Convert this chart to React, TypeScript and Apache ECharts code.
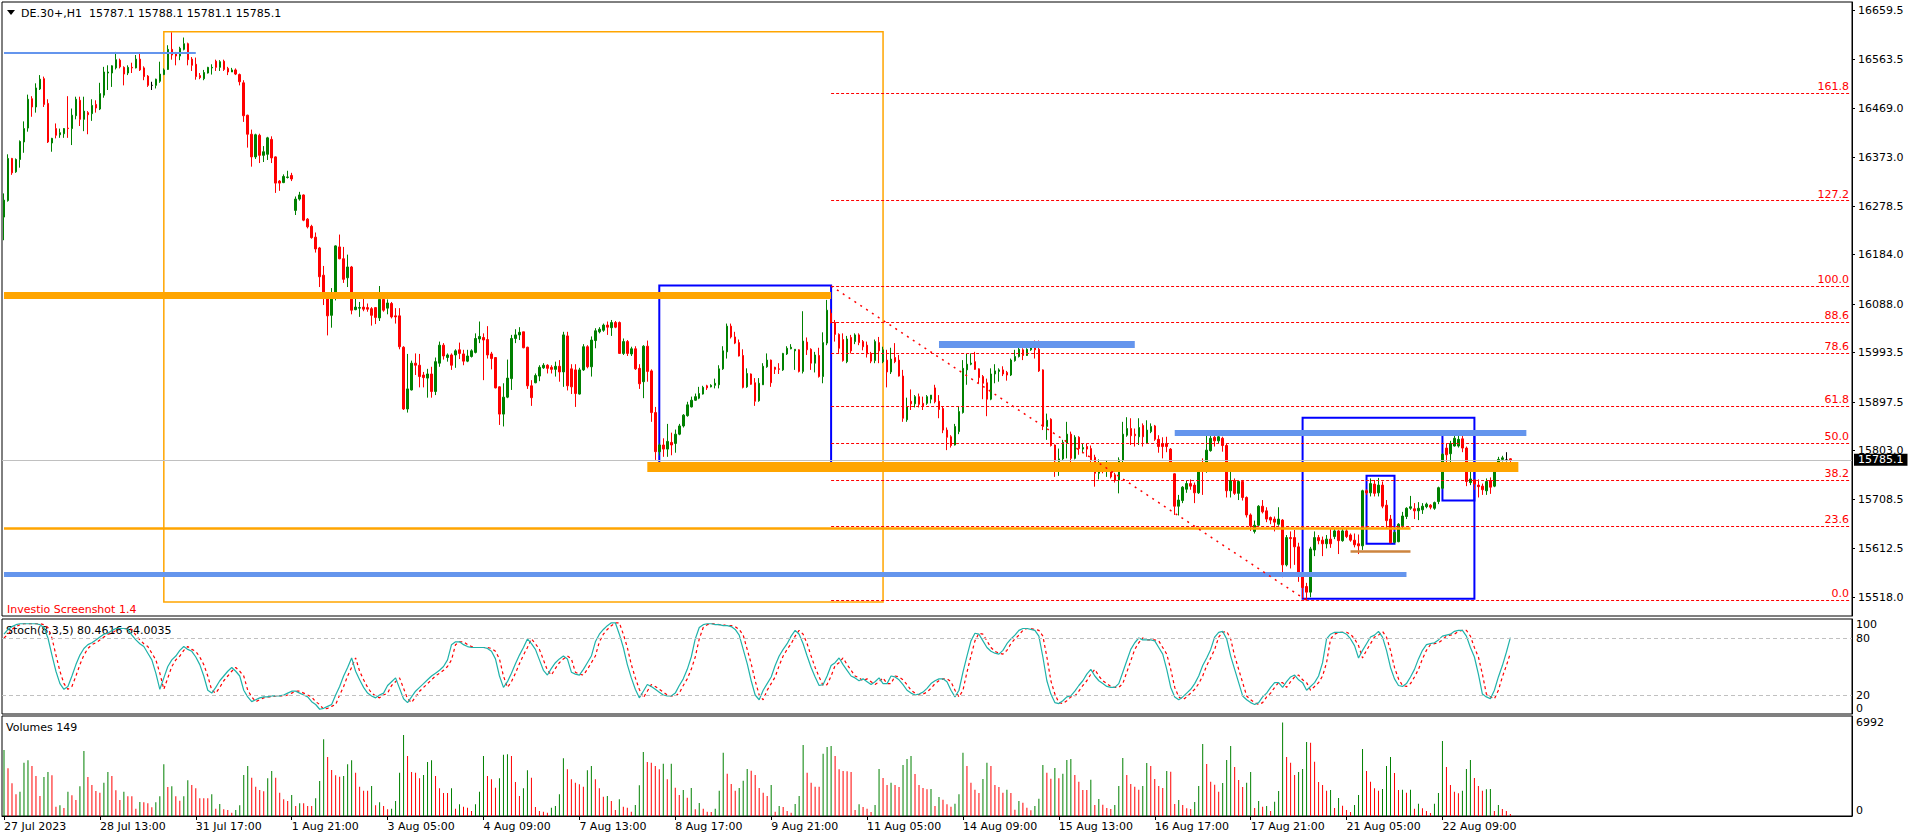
import React, { useEffect, useRef } from "react";
import * as echarts from "echarts";

const FONT = "DejaVu Sans";

// ---------- DATA ----------
const symbolTitle = "DE.30+,H1\u00a0\u00a015787.1 15788.1 15781.1 15785.1";
const timeLabels = [
  "27 Jul 2023", "28 Jul 13:00", "31 Jul 17:00", "1 Aug 21:00", "3 Aug 05:00", "4 Aug 09:00",
  "7 Aug 13:00", "8 Aug 17:00", "9 Aug 21:00", "11 Aug 05:00", "14 Aug 09:00", "15 Aug 13:00",
  "16 Aug 17:00", "17 Aug 21:00", "21 Aug 05:00", "22 Aug 09:00",
];
const barsPerTimeLabel = 24;
const totalSlots = 463; // visible bar slots incl. right shift

const priceTicks = [15518.0, 15612.5, 15708.5, 15803.0, 15897.5, 15993.5, 16088.0, 16184.0, 16278.5, 16373.0, 16469.0, 16563.5, 16659.5];
const stochTicks = [0, 20, 80, 100];
const volumeTicks = [0, 6992];

// [open, high, low, close]
const candles = [
  [16257,16303,16212,16290],[16289,16379,16287,16371],[16371,16372,16339,16343],[16345,16371,16343,16369],[16369,16406,16353,16404],
  [16403,16443,16382,16429],[16430,16495,16423,16486],[16487,16492,16452,16471],[16471,16517,16460,16508],[16506,16533,16504,16525],
  [16526,16530,16471,16476],[16478,16486,16401,16403],[16401,16411,16384,16410],[16429,16439,16410,16416],[16417,16429,16411,16421],
  [16419,16430,16411,16429],[16430,16492,16411,16429],[16429,16468,16397,16455],[16454,16491,16447,16486],[16484,16491,16434,16447],
  [16447,16491,16424,16463],[16460,16463,16418,16456],[16458,16486,16444,16474],[16476,16484,16460,16469],[16467,16518,16465,16497],
  [16494,16549,16489,16539],[16537,16552,16504,16539],[16537,16552,16510,16551],[16547,16578,16544,16563],[16562,16565,16546,16549],
  [16548,16550,16513,16535],[16537,16552,16533,16548],[16548,16557,16537,16547],[16547,16572,16546,16564],[16564,16575,16541,16543],
  [16547,16550,16523,16530],[16531,16533,16510,16513],[16513,16520,16504,16513],[16513,16526,16507,16525],[16521,16559,16518,16535],
  [16534,16546,16533,16543],[16544,16591,16543,16583],[16583,16616,16563,16572],[16574,16578,16552,16570],[16570,16588,16562,16585],
  [16583,16606,16581,16594],[16594,16596,16552,16563],[16564,16568,16541,16552],[16554,16567,16524,16530],[16532,16537,16525,16528],
  [16526,16543,16523,16538],[16537,16549,16536,16548],[16547,16554,16534,16548],[16560,16563,16541,16548],[16548,16562,16541,16559],
  [16560,16563,16541,16544],[16546,16549,16533,16539],[16539,16547,16539,16543],[16543,16546,16533,16535],[16534,16536,16513,16520],
  [16518,16523,16442,16454],[16455,16456,16392,16418],[16418,16427,16355,16374],[16374,16419,16370,16417],[16416,16419,16362,16377],
  [16377,16395,16364,16384],[16379,16413,16368,16411],[16408,16414,16362,16372],[16374,16375,16304,16323],[16327,16329,16308,16323],
  [16324,16340,16323,16336],[16334,16347,16332,16335],[16338,16343,16327,16331],[16270,16297,16261,16292],[16292,16306,16289,16300],
  [16300,16301,16249,16251],[16253,16255,16235,16238],[16239,16242,16215,16217],[16218,16227,16188,16195],[16197,16199,16121,16141],
  [16144,16162,16086,16102],[16105,16110,16027,16065],[16066,16119,16042,16099],[16099,16202,16095,16201],[16199,16223,16175,16176],
  [16176,16199,16129,16136],[16139,16184,16121,16160],[16160,16162,16068,16076],[16077,16110,16076,16082],[16080,16092,16063,16081],
  [16082,16102,16074,16078],[16081,16089,16073,16078],[16079,16082,16046,16066],[16081,16082,16049,16062],[16061,16123,16055,16097],
  [16097,16099,16073,16076],[16080,16097,16068,16090],[16089,16092,16060,16063],[16065,16080,16050,16063],[16065,16080,16000,16005],
  [16004,16006,15882,15884],[15884,15991,15877,15923],[15921,15978,15920,15973],[15973,15992,15950,15969],[15969,15991,15926,15947],
  [15950,15956,15926,15945],[15944,15962,15906,15952],[15952,15966,15906,15918],[15918,15984,15911,15976],[15973,16015,15966,16008],
  [16008,16012,15980,15987],[15984,15992,15976,15989],[15989,15992,15960,15969],[15989,16000,15964,15997],[15999,16013,15981,15992],
  [15991,15999,15969,15977],[15977,15999,15975,15987],[15986,16000,15984,15997],[15994,16031,15992,16021],[16020,16054,16012,16025],
  [16023,16031,15940,16018],[16019,16045,15982,15989],[15991,15995,15961,15982],[15984,15984,15924,15925],[15927,15928,15853,15874],
  [15874,15934,15850,15907],[15907,15980,15905,15944],[15943,16028,15921,16021],[16021,16039,16012,16028],[16028,16043,16018,16033],
  [16034,16034,16002,16003],[16004,16005,15923,15929],[15929,15940,15890,15906],[15935,15953,15934,15949],[15948,15969,15938,15965],
  [15964,15973,15962,15969],[15969,15971,15953,15963],[15965,15969,15953,15961],[15961,15976,15947,15967],[15967,15979,15937,15956],
  [15956,16034,15927,16028],[16026,16034,15920,15929],[15962,15971,15913,15927],[15960,15971,15888,15914],[15913,15964,15912,15960],
  [15960,16010,15958,16005],[16005,16008,15963,15966],[15966,16025,15947,16018],[16017,16041,16002,16036],[16034,16043,16031,16039],
  [16037,16050,16034,16047],[16047,16054,16028,16043],[16042,16057,16026,16052],[16052,16055,16041,16043],[16052,16054,15991,15992],
  [15992,16021,15989,16015],[16015,16018,15987,15992],[15991,16005,15987,16001],[16001,16006,15960,15962],[15963,15971,15923,15933],
  [15937,16008,15905,16006],[16006,16017,15937,15957],[15958,15961,15859,15877],[15877,15888,15785,15801],[15801,15817,15794,15814],
  [15814,15827,15791,15806],[15806,15855,15791,15821],[15819,15838,15794,15814],[15817,15844,15799,15835],[15835,15855,15833,15851],
  [15851,15874,15848,15872],[15871,15898,15869,15892],[15888,15908,15887,15901],[15901,15914,15900,15908],[15905,15927,15903,15914],
  [15913,15929,15912,15926],[15929,15931,15921,15925],[15927,15932,15926,15930],[15930,15943,15924,15934],[15931,15969,15924,15962],
  [15962,16006,15960,15997],[15995,16050,15982,16045],[16045,16050,16021,16024],[16024,16034,16010,16012],[16013,16019,15986,15987],
  [15988,16000,15924,15926],[15927,15963,15925,15953],[15952,15953,15931,15932],[15935,15944,15890,15899],[15900,15944,15898,15934],
  [15931,15973,15931,15967],[15966,15992,15964,15979],[15979,15980,15927,15935],[15965,15966,15952,15961],[15962,15973,15952,15961],
  [15960,15993,15958,15992],[15991,16006,15989,16002],[16001,16010,16000,16004],[15997,16000,15960,16000],[15999,16000,15955,15957],
  [15957,16074,15953,16016],[16014,16023,15989,15999],[16000,16002,15960,15973],[15973,15995,15955,15989],[15988,16003,15945,15947],
  [15947,16033,15934,16013],[16012,16096,16008,16076],[16070,16078,16050,16052],[16052,16057,16015,16029],[16029,16031,15993,16002],
  [16019,16031,15976,15978],[15976,16026,15973,16020],[16023,16028,15992,15997],[16015,16031,16010,16028],[16028,16031,16008,16013],
  [16015,16018,15998,16005],[16008,16015,15984,15991],[15992,15995,15973,15977],[15978,16019,15973,16015],[16013,16024,15973,15997],
  [15976,16005,15973,15999],[15979,15999,15926,15956],[15956,16003,15952,15981],[15984,16012,15973,15976],[15979,15989,15947,15948],
  [15948,15960,15859,15866],[15863,15906,15859,15888],[15899,15922,15882,15894],[15894,15911,15887,15908],[15908,15914,15887,15893],
  [15895,15908,15882,15890],[15895,15911,15892,15908],[15903,15911,15895,15911],[15925,15931,15895,15898],[15899,15911,15866,15883],
  [15885,15888,15837,15843],[15843,15848,15804,15829],[15830,15833,15809,15813],[15814,15855,15813,15850],[15840,15888,15835,15879],
  [15877,15979,15875,15963],[15960,15991,15931,15971],[15971,15992,15969,15973],[15976,15995,15960,15961],[15962,15963,15934,15945],
  [15947,15950,15903,15934],[15935,15943,15870,15903],[15903,15963,15901,15952],[15952,15971,15934,15958],[15957,15963,15937,15960],
  [15960,15967,15948,15952],[15955,15958,15939,15950],[15950,15982,15948,15979],[15978,15999,15976,15986],[15986,16005,15984,16000],
  [15999,16002,15979,15988],[15988,16002,15987,16000],[15999,16013,15997,16005],[16004,16017,15982,15999],[16000,16017,15956,15958],
  [15960,15961,15843,15850],[15850,15875,15824,15862],[15864,15866,15811,15813],[15814,15815,15752,15783],[15782,15807,15754,15787],
  [15787,15824,15785,15819],[15817,15859,15788,15835],[15835,15840,15780,15788],[15788,15833,15786,15829],[15829,15831,15795,15807],
  [15806,15816,15798,15809],[15811,15816,15791,15806],[15807,15813,15769,15785],[15790,15795,15733,15759],[15759,15786,15747,15765],
  [15767,15780,15759,15763],[15764,15783,15752,15765],[15767,15769,15749,15752],[15756,15760,15741,15745],[15746,15790,15720,15785],
  [15784,15859,15772,15835],[15833,15868,15830,15846],[15846,15866,15814,15832],[15835,15846,15811,15832],[15830,15866,15814,15848],
  [15852,15856,15811,15830],[15818,15862,15816,15843],[15840,15856,15837,15850],[15851,15853,15822,15825],[15825,15833,15799,15811],
  [15816,15829,15788,15811],[15817,15830,15800,15811],[15806,15808,15765,15767],[15758,15759,15678,15695],[15695,15717,15677,15707],
  [15706,15734,15701,15732],[15728,15745,15721,15739],[15739,15747,15727,15734],[15736,15741,15701,15721],[15721,15778,15719,15774],
  [15772,15788,15717,15765],[15765,15832,15760,15804],[15803,15837,15801,15827],[15829,15841,15811,15822],[15822,15843,15817,15830],
  [15827,15830,15801,15813],[15813,15817,15712,15725],[15725,15769,15712,15745],[15745,15749,15717,15720],[15720,15746,15707,15743],
  [15743,15746,15706,15712],[15712,15714,15673,15678],[15678,15681,15647,15657],[15646,15667,15642,15658],[15658,15697,15655,15695],
  [15695,15707,15681,15684],[15686,15693,15664,15670],[15673,15675,15660,15668],[15670,15675,15646,15664],[15660,15693,15657,15670],
  [15668,15670,15557,15581],[15581,15639,15578,15634],[15634,15646,15574,15632],[15634,15649,15581,15616],[15616,15624,15548,15561],
  [15563,15565,15516,15537],[15539,15546,15513,15528],[15528,15616,15518,15612],[15610,15646,15598,15634],[15634,15639,15621,15628],
  [15629,15636,15598,15622],[15622,15639,15613,15631],[15631,15652,15614,15622],[15636,15653,15631,15647],[15647,15649,15602,15628],
  [15628,15652,15626,15647],[15647,15652,15633,15636],[15639,15642,15626,15629],[15629,15642,15615,15620],[15622,15640,15602,15618],
  [15618,15727,15610,15725],[15725,15728,15717,15721],[15721,15749,15714,15739],[15738,15746,15714,15720],[15721,15750,15714,15736],
  [15736,15743,15691,15695],[15697,15707,15652,15667],[15670,15678,15623,15624],[15625,15646,15623,15644],[15626,15662,15625,15660],
  [15657,15684,15652,15676],[15675,15693,15670,15691],[15691,15715,15688,15694],[15690,15701,15670,15686],[15686,15703,15668,15691],
  [15688,15701,15680,15695],[15694,15702,15691,15699],[15697,15699,15689,15693],[15691,15704,15688,15702],[15704,15733,15699,15731],
  [15730,15798,15728,15796],[15808,15817,15772,15795],[15797,15822,15778,15817],[15812,15832,15811,15827],[15812,15833,15809,15825],
  [15826,15837,15800,15808],[15808,15811,15734,15743],[15741,15769,15736,15748],[15746,15747,15727,15738],[15736,15747,15712,15733],
  [15734,15739,15717,15727],[15725,15749,15717,15743],[15745,15751,15719,15732],[15734,15772,15732,15769],[15767,15791,15764,15786],
  [15786,15793,15782,15789],[15785,15800,15782,15785],[15787.1,15788.1,15781.1,15785.1],
];

const volumes = [
  4930,3561,2440,1619,1818,3984,4158,3735,2988,1494,
  2913,3287,3038,697,797,598,1818,1544,1195,2216,
  4856,2913,2316,1868,1743,2490,3287,2988,1917,1195,
  1818,1469,1469,548,1046,1021,946,647,1021,1469,
  3860,2166,2216,1469,1145,1469,2664,2316,2067,1320,
  1320,1320,1619,548,896,498,448,249,448,797,
  3063,3735,2864,2191,1942,1843,2814,3362,2864,1743,
  1245,1121,1569,747,946,946,747,747,1320,2615,
  5727,4407,3436,3038,2938,2988,3860,4158,3237,2191,
  1892,1892,2241,797,1021,747,498,548,1121,3237,
  6051,4482,3287,3237,2814,3063,4034,4158,2988,2067,
  1718,1718,2067,548,872,697,623,374,872,1818,
  4482,2988,2739,2117,2814,4582,4607,4482,2540,1494,
  2067,3411,2864,672,374,324,249,623,747,1619,
  4308,3486,2739,2490,2366,2191,3411,3735,2739,2067,
  1444,1494,1121,448,1245,697,623,324,822,2291,
  4781,4034,3984,3735,3486,3909,2739,3909,2117,1569,
  1942,1370,2092,498,971,548,324,299,548,1892,
  4731,3162,2390,1892,2092,2639,3511,3386,3063,2092,
  1743,1494,2316,324,747,672,374,249,896,1494,
  5304,3237,2490,2191,2191,4656,5154,5229,4482,3486,
  3362,3337,3287,448,872,672,548,299,822,3511,
  2839,2316,2490,2316,2166,3810,4258,4482,3137,2316,
  2092,1992,2017,747,1419,1220,872,697,921,1619,
  4731,3735,2490,1967,1718,2764,3984,3735,2316,2166,
  1743,1967,1718,473,1121,996,623,423,747,1295,
  3810,3237,2789,3586,2814,3162,4183,4258,3063,2565,
  1942,1942,2714,822,1270,847,598,523,822,2241,
  4333,3063,2390,2191,1967,2241,3959,3735,2764,2241,
  2092,3362,3312,896,1195,822,573,523,1046,2241,
  5378,3884,2565,2341,1818,2465,4183,5229,3660,2689,
  2166,2490,3287,598,1121,697,747,374,1071,1868,
  6992,4407,3984,3063,3287,3511,5528,5478,4059,2540,
  2316,1892,1942,598,1345,772,448,299,822,1569,
  5005,3362,2565,2067,1892,2017,3735,4407,3212,1942,
  1967,1743,1967,548,921,573,374,224,921,1718,
  5603,3660,2316,1818,1693,1892,3511,4183,2839,2241,
  1892,1992,2017,374,822,523,374,149,
];

const stochK = [
  84,89,92,94,95,95,95,95,95,94, 91,80,62,45,32,26,29,40,52,62,
  69,73,75,78,81,84,85,88,90,90, 90,89,83,78,74,71,64,57,43,26,
  38,50,57,61,67,71,68,66,60,52, 40,25,22,28,35,40,45,49,45,40,
  25,18,13,15,17,18,18,19,19,19, 20,22,24,24,22,20,18,13,10,5,
  6,8,10,20,29,40,49,59,45,36, 28,22,19,17,20,22,30,34,38,27,
  16,12,18,24,28,32,36,40,43,46, 50,57,73,76,76,73,71,70,70,70,
  70,69,66,58,40,28,34,43,53,62, 70,79,74,68,57,46,41,48,54,58,
  61,58,44,42,41,47,54,61,76,84, 89,93,96,96,84,70,52,38,26,17,
  24,31,29,26,23,20,19,19,22,30, 37,47,60,79,91,94,95,95,94,94,
  93,93,92,89,83,68,53,35,20,15, 25,32,39,51,61,68,74,82,88,84,
  74,61,49,39,30,31,40,51,54,59, 52,46,40,38,35,37,34,31,34,38,
  32,32,40,39,36,31,25,22,20,21, 23,27,32,35,37,37,34,25,18,25,
  44,61,77,85,84,77,70,66,64,63, 67,74,79,83,88,90,90,89,88,82,
  60,35,21,12,11,14,18,19,24,30, 35,42,47,40,35,32,29,28,28,32,
  44,56,68,75,80,78,78,78,77,70, 63,47,28,18,15,18,22,26,32,40,
  51,59,68,81,86,87,79,61,47,33, 19,15,12,10,12,18,22,28,33,33,
  28,34,39,41,36,33,25,29,33,40, 54,79,84,86,86,86,84,79,72,59,
  67,74,81,83,87,81,67,49,37,30, 29,32,39,47,58,67,73,74,75,78,
  82,83,84,87,88,88,82,70,60,42, 21,18,16,25,39,51,65,80.4616,
];

const stochD = [
  80,84,89,92,94,95,95,95,95,95, 94,91,80,62,45,32,26,29,40,52,
  62,69,73,75,78,81,84,85,88,90, 90,90,89,83,78,74,71,64,57,43,
  26,38,50,57,61,67,71,68,66,60, 52,40,25,22,28,35,40,45,49,45,
  40,25,18,13,15,17,18,18,19,19, 19,20,22,24,24,22,20,18,13,10,
  5,6,8,10,20,29,40,49,59,45, 36,28,22,19,17,20,22,30,34,38,
  27,16,12,18,24,28,32,36,40,43, 46,50,57,73,76,76,73,71,70,70,
  70,70,69,66,58,40,28,34,43,53, 62,70,79,74,68,57,46,41,48,54,
  58,61,58,44,42,41,47,54,61,76, 84,89,93,96,96,84,70,52,38,26,
  17,24,31,29,26,23,20,19,19,22, 30,37,47,60,79,91,94,95,95,94,
  94,93,93,92,89,83,68,53,35,20, 15,25,32,39,51,61,68,74,82,88,
  84,74,61,49,39,30,31,40,51,54, 59,52,46,40,38,35,37,34,31,34,
  38,32,32,40,39,36,31,25,22,20, 21,23,27,32,35,37,37,34,25,18,
  25,44,61,77,85,84,77,70,66,64, 63,67,74,79,83,88,90,90,89,88,
  82,60,35,21,12,11,14,18,19,24, 30,35,42,47,40,35,32,29,28,28,
  32,44,56,68,75,80,78,78,78,77, 70,63,47,28,18,15,18,22,26,32,
  40,51,59,68,81,86,87,79,61,47, 33,19,15,12,10,12,18,22,28,33,
  33,28,34,39,41,36,33,25,29,33, 40,54,79,84,86,86,86,84,79,72,
  59,67,74,81,83,87,81,67,49,37, 30,29,32,39,47,58,67,73,74,75,
  78,82,83,84,87,88,88,82,70,60, 42,21,18,16,25,39,51,64.0035,
];

const lastPrice = 15785.1;
const stochLevels = [80, 20];

// Fibonacci retracement (anchored from bar 207 @ 16123 down to bar 326 @ 15512)
const fibLabels = ["0.0", "23.6", "38.2", "50.0", "61.8", "78.6", "88.6", "100.0", "127.2", "161.8"];
const fibPrices = [15512, 15656, 15746, 15818, 15890, 15993, 16053, 16123, 16289, 16498];
const fibAnchorBars = [207, 326];
const fibAnchorPrices = [16123, 15512];

// Horizontal drawing objects: [fromBar, toBar, price]
const blueResistanceTop = [0, 48, 16576.5];
const orangeZoneUpper = [0, 207, 16105];
const orangeZoneLower = [161, 379, 15771];
const orangeLineThin = [0, 352, 15652];
const blueSupportLow = [0, 351, 15563];
const blueResistanceMid = [234, 283, 16010];
const blueResistanceRight = [293, 381, 15838];
const brownLineShort = [337, 352, 15607];

// Rectangles: [fromBar, toBar, topPrice, bottomPrice]
const orangeBox = [40, 220, 16617, 15509];
const blueBoxLeft = [164, 207, 16124, 15770];
const blueBoxBig = [325, 368, 15867, 15515];
const blueBoxSmall = [341, 348, 15754, 15622];
const blueBoxRight = [360, 368, 15839, 15706];

// ---------- OPTION ----------
const GREEN = "#008000";
const RED = "#FF0000";
const ORANGE = "#FFA500";
const CORNFLOWER = "#6495ED";
const BLUE = "#0000FF";

const categories = Array.from({ length: totalSlots }, (_, i) => String(i));

function hSeg(seg: number[], color: string, width: number) {
  return [
    { coord: [seg[0], seg[2]], lineStyle: { color, width, type: "solid" } },
    { coord: [seg[1], seg[2]] },
  ];
}
function box(b: number[], color: string, width: number) {
  return [
    { coord: [b[0], b[2]], itemStyle: { color: "rgba(0,0,0,0)", borderColor: color, borderWidth: width } },
    { coord: [b[1], b[3]] },
  ];
}

function buildOption() {
  const lastSlot = totalSlots - 1;
  const fibLines = fibPrices.map((p, k) => [
    {
      coord: [fibAnchorBars[0], p],
      lineStyle: { color: RED, width: 1, type: [3, 2] },
      label: {
        show: true, position: "insideEndTop", formatter: fibLabels[k], color: RED,
        fontSize: 11, fontFamily: FONT, distance: 1,
      },
    },
    { coord: [lastSlot, p] },
  ]);

  const labelVisible = (index: number) =>
    index % barsPerTimeLabel === 0 && index / barsPerTimeLabel < timeLabels.length;

  const gridBase = { left: 2, right: 64, show: true, borderColor: "#000", borderWidth: 1, backgroundColor: "#fff" };

  return {
    animation: false,
    backgroundColor: "#fff",
    textStyle: { fontFamily: FONT },
    grid: [
      { ...gridBase, top: 2, height: 614 },
      { ...gridBase, top: 619, height: 95 },
      { ...gridBase, top: 716, height: 100 },
    ],
    xAxis: [
      { type: "category", gridIndex: 0, data: categories, boundaryGap: true, show: false },
      { type: "category", gridIndex: 1, data: categories, boundaryGap: true, show: false },
      {
        type: "category", gridIndex: 2, data: categories, boundaryGap: true,
        axisLine: { show: true, lineStyle: { color: "#000", width: 1 } },
        axisTick: { show: true, interval: labelVisible, alignWithLabel: true, length: 4, lineStyle: { color: "#000" } },
        axisLabel: {
          show: true, interval: labelVisible, align: "left", margin: 5, fontSize: 11, fontFamily: FONT, color: "#000",
          formatter: (v: string) => timeLabels[Math.round(Number(v) / barsPerTimeLabel)] || "",
        },
        splitLine: { show: false },
      },
    ],
    yAxis: [
      {
        type: "value", gridIndex: 0, position: "right", min: 15481.6, max: 16675.05,
        splitLine: { show: false },
        axisLine: { show: true, lineStyle: { color: "#000" } },
        axisTick: { show: true, customValues: priceTicks, length: 3, lineStyle: { color: "#000" } },
        axisLabel: {
          customValues: priceTicks, margin: 6, fontSize: 11, fontFamily: FONT, color: "#000",
          formatter: (v: number) => v.toFixed(1),
        },
      },
      {
        type: "value", gridIndex: 1, position: "right", min: 0, max: 100,
        splitLine: { show: false },
        axisLine: { show: true, lineStyle: { color: "#000" } },
        axisTick: { show: false },
        axisLabel: {
          customValues: stochTicks, margin: 4, fontSize: 11, fontFamily: FONT, color: "#000",
          verticalAlignMinLabel: "bottom", verticalAlignMaxLabel: "top",
          formatter: (v: number) => String(v),
        },
      },
      {
        type: "value", gridIndex: 2, position: "right", min: 0, max: 7470,
        splitLine: { show: false },
        axisLine: { show: true, lineStyle: { color: "#000" } },
        axisTick: { show: false },
        axisLabel: {
          customValues: volumeTicks, margin: 4, fontSize: 11, fontFamily: FONT, color: "#000",
          verticalAlignMinLabel: "bottom",
          formatter: (v: number) => String(v),
        },
      },
    ],
    series: [
      {
        name: "objects", type: "line", xAxisIndex: 0, yAxisIndex: 0, data: [], z: 1, silent: true,
        markArea: {
          silent: true,
          data: [
            box(orangeBox, ORANGE, 1.5),
            box(blueBoxLeft, BLUE, 2),
            box(blueBoxBig, BLUE, 2),
            box(blueBoxSmall, BLUE, 2),
            box(blueBoxRight, BLUE, 2),
          ],
        },
        markLine: {
          silent: true, symbol: ["none", "none"], label: { show: false },
          data: [
            hSeg(blueResistanceTop, CORNFLOWER, 2),
            hSeg(orangeZoneUpper, ORANGE, 7),
            hSeg(orangeZoneLower, ORANGE, 10),
            hSeg(orangeLineThin, ORANGE, 2.5),
            hSeg(blueSupportLow, CORNFLOWER, 5),
            hSeg(blueResistanceMid, CORNFLOWER, 7),
            hSeg(blueResistanceRight, CORNFLOWER, 6),
            hSeg(brownLineShort, "#CD853F", 2.5),
            ...fibLines,
            [
              { coord: [fibAnchorBars[0], fibAnchorPrices[0]], lineStyle: { color: RED, width: 1.5, type: [2, 5] } },
              { coord: [fibAnchorBars[1], fibAnchorPrices[1]] },
            ],
            {
              yAxis: lastPrice, lineStyle: { color: "#C0C0C0", width: 1, type: "solid" },
              label: {
                show: true, position: "end", formatter: lastPrice.toFixed(1), color: "#fff",
                backgroundColor: "#000", padding: [1, 4, 0, 4], fontSize: 11, fontFamily: FONT, distance: 2,
              },
            },
          ],
        },
      },
      {
        name: "DE.30+", type: "candlestick", xAxisIndex: 0, yAxisIndex: 0, z: 3, barWidth: 2,
        data: candles.map((c) => [c[0], c[3], c[2], c[1]]),
        itemStyle: {
          color: GREEN, color0: RED, borderColor: GREEN, borderColor0: RED,
          borderColorDoji: "#000", borderWidth: 1,
        },
      },
      {
        name: "Stoch main", type: "line", xAxisIndex: 1, yAxisIndex: 1, data: stochK,
        showSymbol: false, symbol: "none", z: 3,
        lineStyle: { color: "#20B2AA", width: 1.2 },
        markLine: {
          silent: true, symbol: ["none", "none"], label: { show: false },
          lineStyle: { color: "#C0C0C0", width: 1, type: [4, 3] },
          data: stochLevels.map((v) => ({ yAxis: v })),
        },
      },
      {
        name: "Stoch signal", type: "line", xAxisIndex: 1, yAxisIndex: 1, data: stochD,
        showSymbol: false, symbol: "none", z: 2,
        lineStyle: { color: RED, width: 1.2, type: [3, 3] },
      },
      {
        name: "Volumes", type: "bar", xAxisIndex: 2, yAxisIndex: 2, barWidth: 1,
        data: volumes.map((v, i) => ({
          value: v,
          itemStyle: { color: i === 0 || v > volumes[i - 1] ? GREEN : RED },
        })),
      },
    ],
    graphic: [
      { type: "polygon", shape: { points: [[7, 10], [15, 10], [11, 15]] }, style: { fill: "#000" }, silent: true },
      { type: "text", x: 21, y: 13, style: { text: symbolTitle, fill: "#000", fontSize: 11, fontFamily: FONT, verticalAlign: "middle" }, silent: true },
      { type: "text", x: 7, y: 609, style: { text: "Investio Screenshot 1.4", fill: RED, fontSize: 11, fontFamily: FONT, verticalAlign: "middle" }, silent: true },
      { type: "text", x: 6, y: 630, style: { text: "Stoch(8,3,5) 80.4616 64.0035", fill: "#000", fontSize: 11, fontFamily: FONT, verticalAlign: "middle" }, silent: true },
      { type: "text", x: 6, y: 727, style: { text: `Volumes ${volumes[volumes.length - 1]}`, fill: "#000", fontSize: 11, fontFamily: FONT, verticalAlign: "middle" }, silent: true },
    ],
  };
}

export default function App() {
  const ref = useRef<HTMLDivElement>(null);
  useEffect(() => {
    if (!ref.current) return;
    const chart = echarts.init(ref.current, null, { renderer: "svg" });
    chart.setOption(buildOption() as any);
    return () => chart.dispose();
  }, []);
  return (
    <div
      ref={ref}
      style={{ position: "fixed", left: 0, top: 0, width: 1916, height: 840, background: "#fff" }}
    />
  );
}
